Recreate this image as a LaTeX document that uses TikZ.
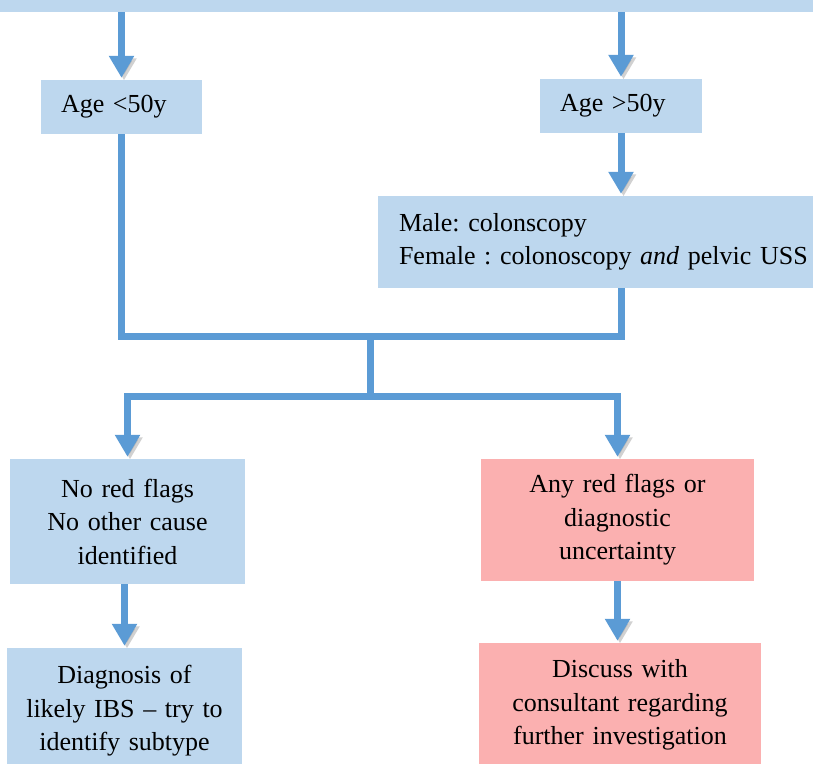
\documentclass[tikz,border=0pt]{standalone}
\usepackage{fontspec}
\setmainfont{Liberation Serif}
\usetikzlibrary{arrows.meta}
\definecolor{boxblue}{RGB}{189,215,238}
\definecolor{boxred}{RGB}{251,176,176}
\definecolor{linkblue}{RGB}{91,155,213}
\frenchspacing
\begin{document}
\begin{tikzpicture}[x=1pt, y=-1pt,
    box/.style={inner sep=0pt, font=\fontsize{26}{33.5}\selectfont},
    bluebox/.style={box, fill=boxblue},
    redbox/.style={box, fill=boxred},
    link/.style={draw=linkblue, line width=7pt,
      preaction={draw=black!40, opacity=0.45, transform canvas={shift={(2.5pt,-2.5pt)}}}},
    tip/.style={link, -{Triangle[width=24pt,length=22pt]}, shorten >=2pt}]
    \useasboundingbox (0,0) rectangle (813,763);

    % Top box, cut by the page
    \node[bluebox, minimum width=833pt, minimum height=52pt] (top) at (406.5,-14) {};

    % Age split
    \node[bluebox, text width=121pt, inner xsep=20pt, minimum height=54pt, align=left] (young) at (121.5,107) {Age <50y};
    \node[bluebox, text width=122pt, inner xsep=20pt, minimum height=54pt, align=left] (old) at (621,106) {Age >50y};
    \node[bluebox, text width=430pt, inner xsep=21pt, minimum height=92pt, align=left] (scope) at (614,242)
        {Male: colonscopy\\Female : colonoscopy \textit{and} pelvic USS};

    % Outcome boxes
    \node[bluebox, text width=235pt, minimum height=125pt, align=center] (calm) at (127.5,521.5)
        {No red flags\\No other cause\\identified};
    \node[redbox, text width=273pt, minimum height=122pt, align=center] (alarm) at (617.5,520)
        {Any red flags or\\diagnostic\\uncertainty};
    \node[bluebox, text width=235pt, minimum height=126pt, align=center] (ibs) at (124.5,711)
        {Diagnosis of\\likely IBS -- try to\\identify subtype};
    \node[redbox, text width=282pt, minimum height=124pt, align=center] (discuss) at (620,705)
        {Discuss with\\consultant regarding\\further investigation};

    % Connectors
    \coordinate (merge) at (370,336);
    \coordinate (split) at (370,396);
    \draw[tip] (young.north |- top.south) -- (young.north);
    \draw[tip] (old.north |- top.south) -- (old.north);
    \draw[tip] (old.south) -- (old.south |- scope.north);
    \draw[link] (young.south) |- (merge) -| (old.south |- scope.south);
    \draw[link] (merge) -- (split);
    \draw[tip] (split) -| (calm.north);
    \draw[tip] (split) -| (alarm.north);
    \draw[tip] (calm.south -| ibs.north) -- (ibs.north);
    \draw[tip] (alarm.south) -- (alarm.south |- discuss.north);
\end{tikzpicture}
\end{document}
